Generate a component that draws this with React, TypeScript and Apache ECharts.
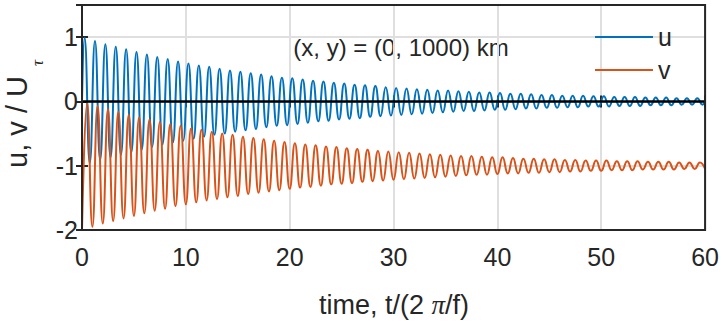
import React, { useEffect, useRef } from "react";
import * as echarts from "echarts";

// Positive u extrema, at t = k + 0.25 (k = 0..59)
const uPeaks = [
  0.99, 0.94, 0.89, 0.85, 0.81, 0.77, 0.73, 0.69, 0.66, 0.62,
  0.59, 0.56, 0.54, 0.51, 0.48, 0.46, 0.44, 0.42, 0.39, 0.37,
  0.36, 0.34, 0.32, 0.31, 0.29, 0.28, 0.26, 0.25, 0.24, 0.22,
  0.21, 0.2, 0.19, 0.18, 0.17, 0.17, 0.16, 0.15, 0.14, 0.14,
  0.13, 0.12, 0.12, 0.11, 0.1, 0.1, 0.09, 0.09, 0.09, 0.08,
  0.08, 0.07, 0.07, 0.07, 0.06, 0.06, 0.06, 0.05, 0.05, 0.05,
];
// Negative u extrema, at t = k + 0.75 (k = 0..59)
const uTroughs = [
  -0.96, -0.91, -0.87, -0.83, -0.79, -0.75, -0.71, -0.67, -0.64, -0.61,
  -0.58, -0.55, -0.52, -0.5, -0.47, -0.45, -0.43, -0.4, -0.38, -0.37,
  -0.35, -0.33, -0.31, -0.3, -0.28, -0.27, -0.26, -0.24, -0.23, -0.22,
  -0.21, -0.2, -0.19, -0.18, -0.17, -0.16, -0.15, -0.15, -0.14, -0.13,
  -0.13, -0.12, -0.11, -0.11, -0.1, -0.1, -0.09, -0.09, -0.08, -0.08,
  -0.08, -0.07, -0.07, -0.07, -0.06, -0.06, -0.06, -0.05, -0.05, -0.05,
];
const uStart = 0;
const uEnd = 0;

// v minima at t = k (k = 0..60)
const vTroughs = [
  -2.0, -1.95, -1.9, -1.86, -1.82, -1.78, -1.74, -1.7, -1.67, -1.63,
  -1.6, -1.57, -1.54, -1.52, -1.49, -1.47, -1.44, -1.42, -1.4, -1.38,
  -1.36, -1.34, -1.33, -1.31, -1.29, -1.28, -1.27, -1.25, -1.24, -1.23,
  -1.22, -1.21, -1.2, -1.19, -1.18, -1.17, -1.16, -1.15, -1.14, -1.14,
  -1.13, -1.12, -1.12, -1.11, -1.11, -1.1, -1.1, -1.09, -1.09, -1.08,
  -1.08, -1.07, -1.07, -1.07, -1.06, -1.06, -1.06, -1.06, -1.05, -1.05,
  -1.05,
];
// v maxima at t = k + 0.5 (k = 0..59)
const vPeaks = [
  -0.03, -0.07, -0.12, -0.16, -0.21, -0.25, -0.28, -0.32, -0.35, -0.38,
  -0.42, -0.44, -0.47, -0.5, -0.52, -0.55, -0.57, -0.59, -0.61, -0.63,
  -0.65, -0.67, -0.68, -0.7, -0.71, -0.73, -0.74, -0.75, -0.77, -0.78,
  -0.79, -0.8, -0.81, -0.82, -0.83, -0.84, -0.85, -0.85, -0.86, -0.87,
  -0.87, -0.88, -0.89, -0.89, -0.9, -0.9, -0.91, -0.91, -0.92, -0.92,
  -0.92, -0.93, -0.93, -0.93, -0.94, -0.94, -0.94, -0.95, -0.95, -0.95,
];

const xTicks = { min: 0, max: 60, interval: 10 };
const yTicks = { min: -2, max: 1.5, interval: 1 };

const FONT = '"Liberation Sans", Arial, Helvetica, sans-serif';
const SERIF = '"Liberation Serif", "DejaVu Serif", serif';
const TXT = "#262626";
const BLUE = "#0072BD";
const ORANGE = "#D95319";

function buildU(): number[][] {
  const d: number[][] = [[0, uStart]];
  for (let k = 0; k < uPeaks.length; k++) {
    d.push([k + 0.25, uPeaks[k]]);
    d.push([k + 0.75, uTroughs[k]]);
  }
  d.push([60, uEnd]);
  return d;
}

function buildV(): number[][] {
  const d: number[][] = [];
  for (let k = 0; k < vTroughs.length; k++) {
    d.push([k, vTroughs[k]]);
    if (k < vPeaks.length) d.push([k + 0.5, vPeaks[k]]);
  }
  return d;
}

export default function App() {
  const ref = useRef<HTMLDivElement>(null);
  useEffect(() => {
    if (!ref.current) return;
    const chart = echarts.init(ref.current, undefined, { renderer: "svg" });
    const tickStyle = { show: true, inside: true, length: 6, lineStyle: { color: TXT, width: 2 } };
    chart.setOption({
      animation: false,
      backgroundColor: "#ffffff",
      grid: {
        left: 82,
        right: 15,
        top: 5,
        bottom: 98,
        show: true,
        borderColor: TXT,
        borderWidth: 2,
        backgroundColor: "transparent",
        z: 10,
      },
      legend: {
        data: ["u", "v"],
        orient: "vertical",
        left: 590,
        top: 19,
        icon: "rect",
        itemWidth: 58,
        itemHeight: 2,
        itemGap: 7,
        textStyle: { fontFamily: FONT, fontSize: 25, color: TXT, lineHeight: 26 },
      },
      xAxis: [
        {
          type: "value",
          ...xTicks,
          position: "bottom",
          axisLine: { show: false },
          axisTick: tickStyle,
          axisLabel: { fontFamily: FONT, fontSize: 25, color: TXT, margin: 14 },
          splitLine: { show: true, lineStyle: { color: "#dfdfdf", width: 2 } },
        },
        {
          type: "value",
          ...xTicks,
          position: "top",
          axisLine: { show: false },
          axisTick: tickStyle,
          axisLabel: { show: false },
          splitLine: { show: false },
        },
      ],
      yAxis: [
        {
          type: "value",
          ...yTicks,
          position: "left",
          axisLine: { show: false },
          axisTick: tickStyle,
          axisLabel: { fontFamily: FONT, fontSize: 25, color: TXT, margin: 4, showMaxLabel: false },
          splitLine: { show: true, lineStyle: { color: "#dfdfdf", width: 2 } },
        },
        {
          type: "value",
          ...yTicks,
          position: "right",
          axisLine: { show: false },
          axisTick: tickStyle,
          axisLabel: { show: false },
          splitLine: { show: false },
        },
      ],
      series: [
        {
          name: "u",
          type: "line",
          data: buildU(),
          showSymbol: false,
          smooth: 0.5,
          lineStyle: { color: BLUE, width: 2 },
          itemStyle: { color: BLUE },
        },
        {
          name: "v",
          type: "line",
          data: buildV(),
          showSymbol: false,
          smooth: 0.5,
          lineStyle: { color: ORANGE, width: 2 },
          itemStyle: { color: ORANGE },
        },
        {
          name: "zero",
          type: "line",
          data: [
            [xTicks.min, 0],
            [xTicks.max, 0],
          ],
          showSymbol: false,
          lineStyle: { color: "#000000", width: 2.5 },
          z: 5,
        },
      ],
      graphic: [
        {
          type: "text",
          x: 401,
          y: 47,
          style: {
            text: "(x, y) = (0, 1000) km",
            fontFamily: FONT,
            fontSize: 24,
            fill: TXT,
            align: "center",
            verticalAlign: "middle",
          },
        },
        {
          type: "text",
          x: 394,
          y: 305,
          style: {
            text: "{t|time, t/(2 }{p|π}{t|/f)}",
            align: "center",
            verticalAlign: "middle",
            rich: {
              t: { fontFamily: FONT, fontSize: 27, fill: TXT, color: TXT },
              p: { fontFamily: SERIF, fontStyle: "italic", fontSize: 27, fill: TXT, color: TXT },
            },
          },
        },
        {
          type: "text",
          x: 17,
          y: 122,
          rotation: Math.PI / 2,
          style: {
            text: "u, v / U",
            fontFamily: FONT,
            fontSize: 29,
            fill: TXT,
            align: "center",
            verticalAlign: "middle",
          },
        },
        {
          type: "text",
          x: 37,
          y: 63,
          rotation: Math.PI / 2,
          style: {
            text: "τ",
            fontFamily: SERIF,
            fontStyle: "italic",
            fontSize: 17,
            fill: TXT,
            align: "center",
            verticalAlign: "middle",
          },
        },
      ],
    });
    return () => chart.dispose();
  }, []);
  return (
    <div
      ref={ref}
      style={{ position: "fixed", left: 0, top: 0, width: 722, height: 328 }}
    />
  );
}
